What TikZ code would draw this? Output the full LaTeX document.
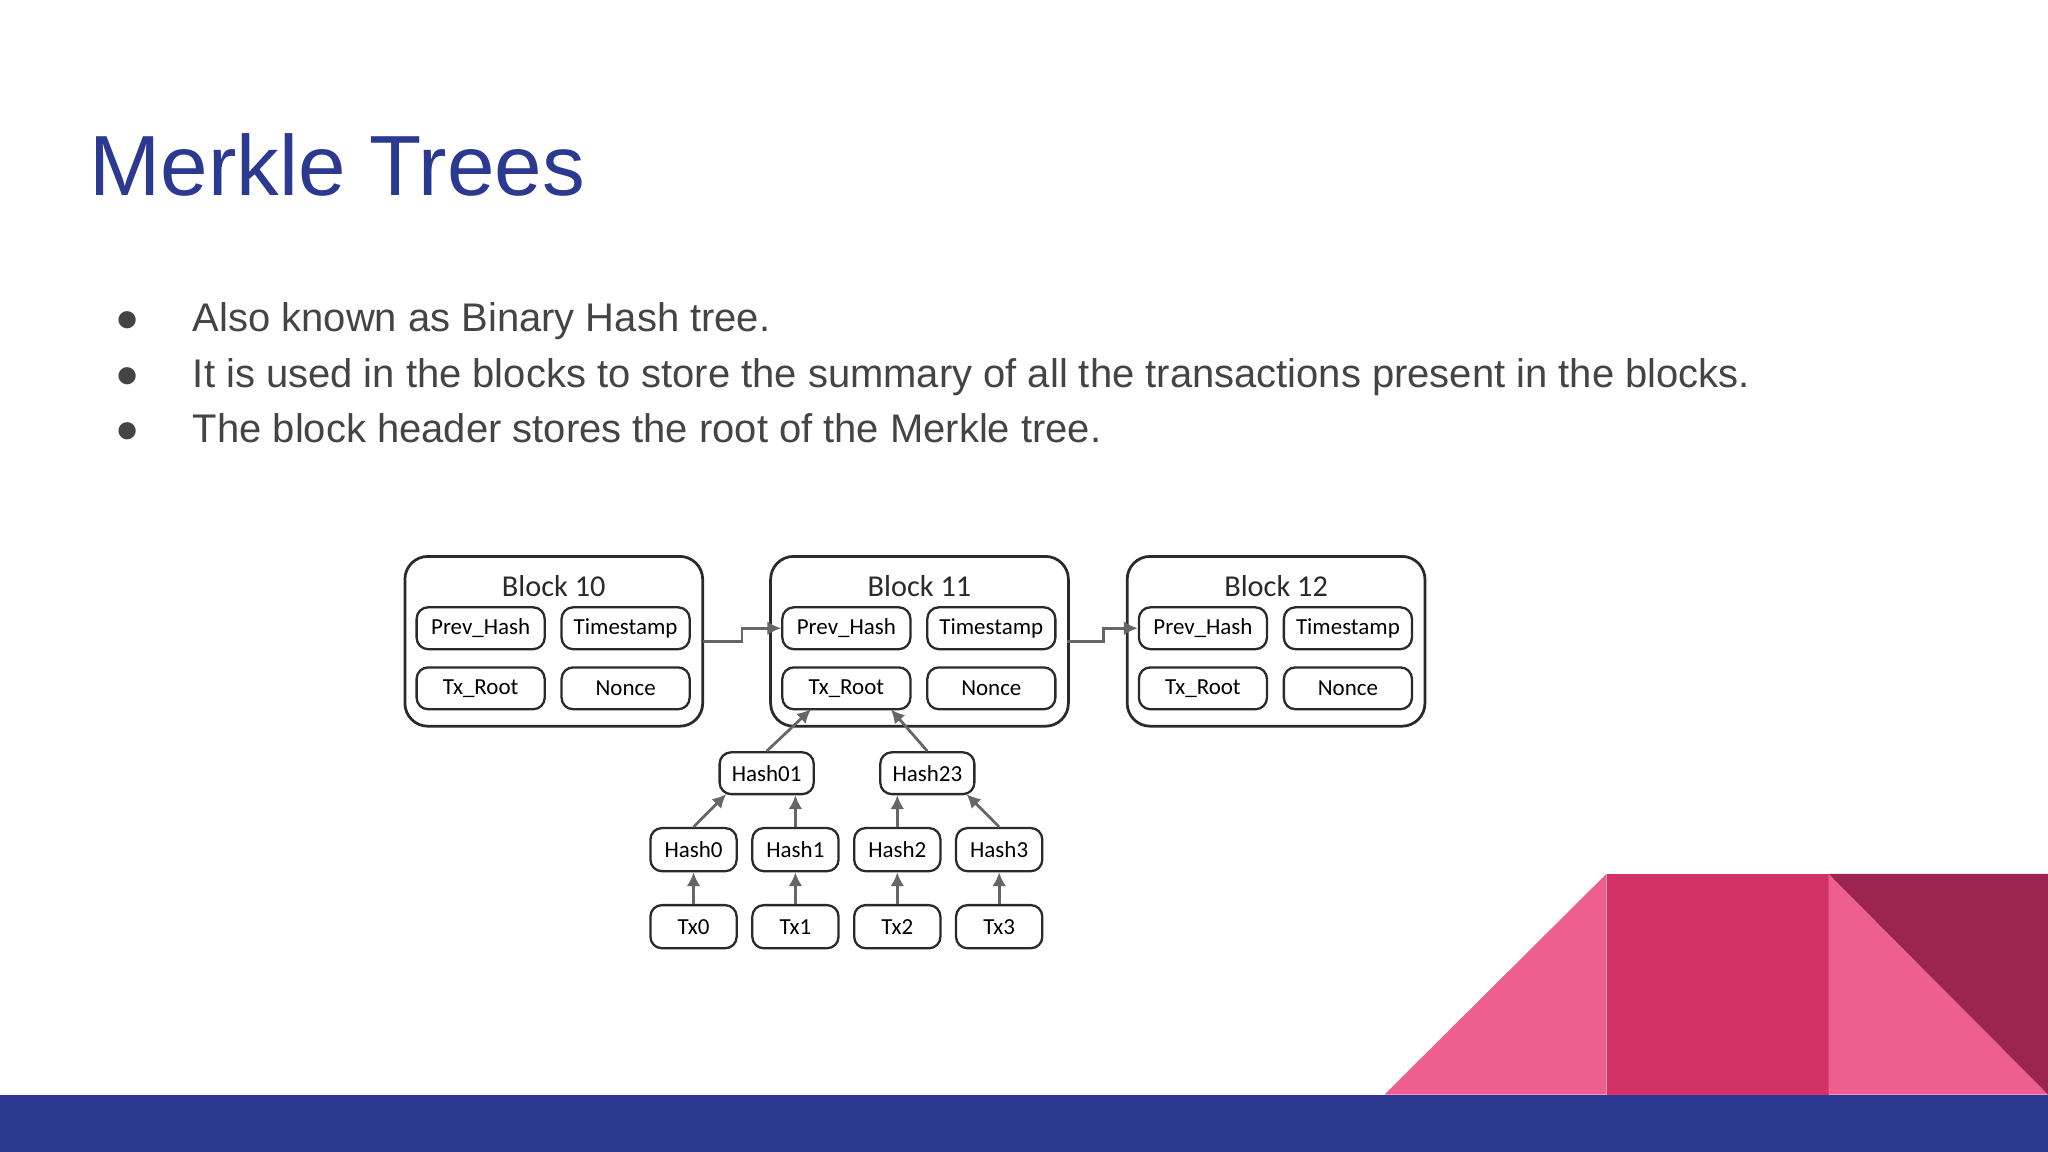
\documentclass[tikz,border=0pt]{standalone}
\usepackage{fontspec}
\setmainfont{Liberation Sans}
\newfontfamily\diag{Carlito}
\usetikzlibrary{arrows.meta}
\definecolor{navy}{HTML}{2B3990}
\definecolor{txt}{HTML}{444444}
\definecolor{pinkL}{HTML}{EE5F8F}
\definecolor{pinkM}{HTML}{D33266}
\definecolor{pinkD}{HTML}{9B2450}
\definecolor{ln}{HTML}{2A2A2A}
\definecolor{arr}{HTML}{666666}
\tikzset{
 blk/.style={draw=ln,line width=0.6pt,rounded corners=5pt},
 inbox/.style={draw=ln,line width=0.5pt,rounded corners=2.5pt,font=\diag\fontsize{5}{6}\selectfont,inner sep=0pt},
 hb/.style={inbox,minimum width=0.98cm,minimum height=0.32cm},
 tn/.style={inbox,minimum width=0.66cm,minimum height=0.33cm},
 arw/.style={draw=arr,line width=0.6pt,-{Latex[length=3pt,width=3pt]}},
 bul/.style={anchor=base west,text=txt,font=\fontsize{8.7}{10}\selectfont,inner sep=0pt}
}
\begin{document}
\begin{tikzpicture}[x=0.01cm,y=-0.01cm]
\fill[white] (0,0) rectangle (1568,882);
\useasboundingbox (0,0) rectangle (1568,882);
% decorations
\fill[pinkL] (1060,838) -- (1230,669) -- (1230,838) -- cycle;
\fill[pinkM] (1230,669) rectangle (1400,838);
\fill[pinkL] (1400,669) -- (1568,838) -- (1400,838) -- cycle;
\fill[pinkD] (1400,669) -- (1568,669) -- (1568,838) -- cycle;
\fill[navy] (0,838) rectangle (1568,882);
% title and bullets
\node[anchor=base west,text=navy,inner sep=0pt,font=\fontsize{18.6}{22}\selectfont] (title) at (68,150) {Merkle Trees};
\foreach \y/\t [count=\i] in {254/Also known as Binary Hash tree.,297/It is used in the blocks to store the summary of all the transactions present in the blocks.,339/The block header stores the root of the Merkle tree.}{
 \node[bul] (b\i) at (147,\y) {\t};
 \node[anchor=base,text=txt,inner sep=0pt,font=\fontsize{8.7}{10}\selectfont] (d\i) at (98,\y) {●};
}
% blocks
\foreach \n/\x in {10/310,11/590,12/863}{
 \draw[blk] (\x,426) rectangle ++(228,130);
 \node[font=\diag\fontsize{6.6}{8}\selectfont,text=ln] (blk\n) at (\x+114,449) {Block \n};
 \node[hb] (ph\n) at (\x+58,481) {Prev\_Hash};
 \node[hb] (ts\n) at (\x+169,481) {Timestamp};
 \node[hb] (tr\n) at (\x+58,527) {Tx\_Root};
 \node[hb] (no\n) at (\x+169,527) {Nonce};
}
\coordinate (o10) at (538,491);
\coordinate (o11) at (817,491);
\draw[arw] (o10) -- (568,491) -- (568,481) -- (ph11.west);
\draw[arw] (o11) -- (845,491) -- (845,481) -- (ph12.west);
% tree nodes
\node[inbox,minimum width=0.72cm,minimum height=0.32cm] (h01) at (587,592) {Hash01};
\node[inbox,minimum width=0.72cm,minimum height=0.32cm] (h23) at (710,592) {Hash23};
\foreach \i/\x in {0/531,1/609,2/687,3/765}{
 \node[tn] (h\i) at (\x,650.5) {Hash\i};
 \node[tn] (t\i) at (\x,709.5) {Tx\i};
 \draw[arw] (t\i) -- (h\i);
}
\draw[arw] (h01.north) -- (621,543);
\draw[arw] (h23.north) -- (682,543);
\draw[arw] (h0.north) -- (556,608);
\draw[arw] (h1) -- (h01.south -| h1);
\draw[arw] (h2) -- (h23.south -| h2);
\draw[arw] (h3.north) -- (740,608);
\end{tikzpicture}
\end{document}
